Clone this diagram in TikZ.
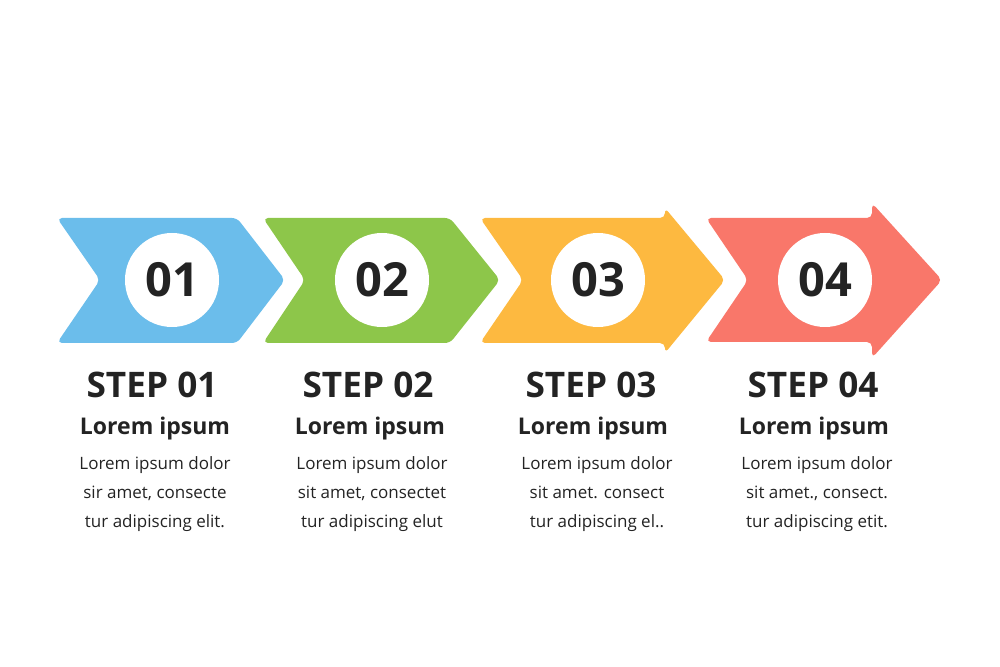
\documentclass[tikz,border=0pt]{standalone}
\usepackage{fontspec}
\setmainfont{Open Sans}
\usepackage{xcolor}
\usepackage{tikz}
\usetikzlibrary{positioning,calc}
\definecolor{stepblue}{HTML}{6BBDEB}
\definecolor{stepgreen}{HTML}{8DC64A}
\definecolor{steporange}{HTML}{FDB940}
\definecolor{stepred}{HTML}{F9776A}
\definecolor{inkdark}{HTML}{232323}

\begin{document}
\begin{tikzpicture}[x=0.5pt,y=-0.5pt,
    chevron/.style={rounded corners=2.5pt},
    numdisc/.style={circle,fill=white,inner sep=0pt,minimum size=47pt,
        text=inkdark,font=\fontsize{23.5}{25}\selectfont\bfseries},
    steptitle/.style={text=inkdark,inner sep=0pt,font=\fontsize{17.6}{20}\selectfont\bfseries},
    stephead/.style={text=inkdark,inner sep=0pt,font=\fontsize{11.5}{13}\selectfont\bfseries},
    stepbody/.style={text=inkdark,inner sep=0pt,align=center,font=\fontsize{8.5}{14.5}\selectfont}]
    \useasboundingbox (0,0) rectangle (1000,667);

    % Chevrons
    \fill[stepblue,chevron] (57,218) -- (237,218) -- (285,280) -- (237,343) -- (57,343) -- (100,280) -- cycle;
    \fill[stepgreen,chevron] (263,218) -- (450,218) -- (500,280) -- (450,343) -- (263,343) -- (305,280) -- cycle;
    \fill[steporange,chevron] (480,218) -- (665,218) -- (665,208) -- (725,280) -- (665,353) -- (665,343) -- (480,343) -- (523,280) -- cycle; % small head
    \fill[stepred,chevron] (706,218) -- (872,218) -- (872,203) -- (942,280) -- (872,358) -- (872,342) -- (706,342) -- (748,280) -- cycle; % big head

    % Number discs
    \node[numdisc] (n1) at (172,280) {01};
    \node[numdisc] (n2) at (382,280) {02};
    \node[numdisc] (n3) at (598,280) {03};
    \node[numdisc] (n4) at (825,280) {04};

    % Step titles
    \node[steptitle] (title1) at (152,385) {STEP 01};
    \node[steptitle] (title2) at (368,385) {STEP 02};
    \node[steptitle] (title3) at (591,385) {STEP 03};
    \node[steptitle] (title4) at (813,385) {STEP 04};

    \node[stephead] (head1) at (155,429) {Lorem ipsum};
    \node[stephead] (head2) at (370,429) {Lorem ipsum};
    \node[stephead] (head3) at (593,429) {Lorem ipsum};
    \node[stephead] (head4) at (814,429) {Lorem ipsum};

    \node[stepbody] (body1) at (155,494) {Lorem ipsum dolor\\sir amet, consecte\\tur adipiscing elit.};
    \node[stepbody] (body2) at (372,494) {Lorem ipsum dolor\\sit amet, consectet\\tur adipiscing elut};
    \node[stepbody] (body3) at (597,494) {Lorem ipsum dolor\\sit amet. consect\\tur adipiscing el..};
    \node[stepbody] (body4) at (817,494) {Lorem ipsum dolor\\sit amet., consect.\\tur adipiscing etit.};
\end{tikzpicture}
\end{document}
